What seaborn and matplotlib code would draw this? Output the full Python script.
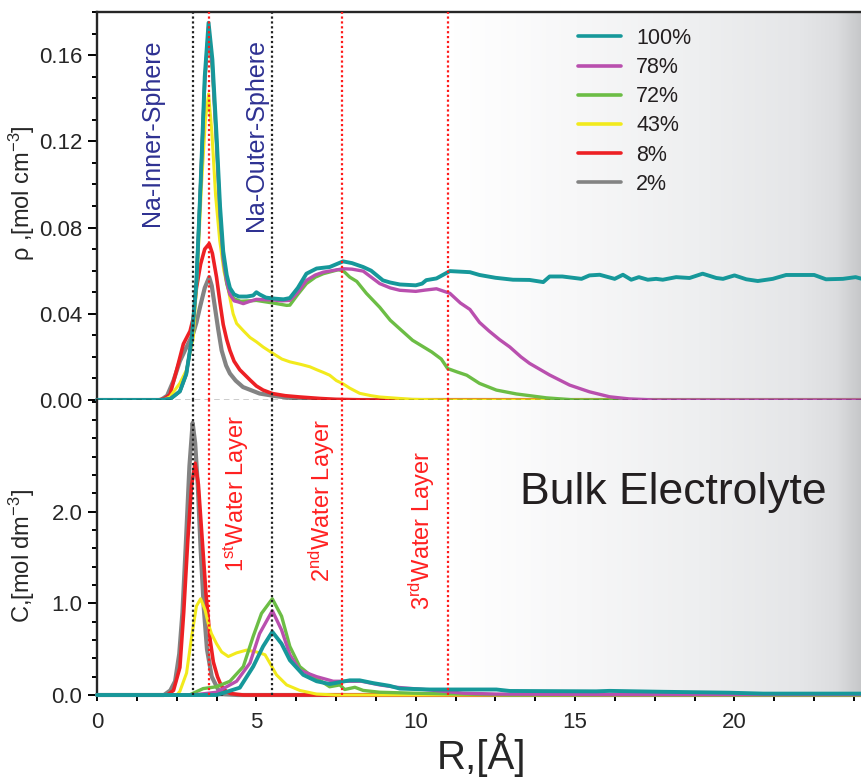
import numpy as np
import pandas as pd
import matplotlib
matplotlib.use("Agg")
import matplotlib.pyplot as plt
import seaborn as sns
from matplotlib.ticker import MultipleLocator, FixedLocator, FormatStrFormatter
from matplotlib.colors import LinearSegmentedColormap

# ---------------- data ----------------
labels = ["100%", "78%", "72%", "43%", "8%", "2%"]
colors = {"100%": "#16989a", "78%": "#b94fae", "72%": "#6cbd45",
          "43%": "#f2ea1c", "8%": "#ed2024", "2%": "#838383"}

# top panel: rho [mol cm^-3]
r_rho_100 = [0, 2.0, 2.3, 2.6, 2.8, 2.97, 3.12, 3.25, 3.38, 3.5, 3.62, 3.75, 3.86, 3.96, 4.07, 4.17,
             4.3, 4.45, 4.7, 4.9, 5.0, 5.1, 5.3, 5.6, 5.85, 6.05, 6.3, 6.57, 6.89, 7.3, 7.72, 8.0,
             8.35, 8.6, 8.97, 9.2, 9.5, 10.0, 10.2, 10.33, 10.65, 11.07, 11.7, 12.0, 12.5, 13.05,
             13.57, 14.0, 14.2, 14.6, 15.2, 15.45, 15.77, 16.24, 16.5, 16.76, 17.0, 17.28, 17.54,
             17.75, 18.17, 18.59, 19.0, 19.43, 19.64, 20.0, 20.37, 20.73, 21.2, 21.62, 22.14, 22.5,
             22.87, 23.4, 23.8, 24.0]
rho_100 = [0, 0, 0.0005, 0.004, 0.012, 0.028, 0.055, 0.10, 0.15, 0.175, 0.158, 0.123, 0.09, 0.069,
           0.058, 0.052, 0.049, 0.048, 0.048, 0.0485, 0.050, 0.049, 0.0475, 0.047, 0.0467, 0.0473,
           0.052, 0.0586, 0.061, 0.0617, 0.0643, 0.0635, 0.0617, 0.060, 0.0555, 0.0545, 0.0536,
           0.0532, 0.054, 0.0556, 0.0564, 0.0598, 0.0593, 0.058, 0.0567, 0.0558, 0.0557, 0.0547,
           0.0573, 0.0573, 0.0562, 0.0578, 0.0581, 0.0562, 0.0581, 0.0558, 0.057, 0.0558, 0.0562,
           0.0558, 0.057, 0.0566, 0.0586, 0.0566, 0.0562, 0.0578, 0.056, 0.0552, 0.0562, 0.058,
           0.058, 0.058, 0.056, 0.0562, 0.057, 0.0562]

r_rho_78 = [0, 2.0, 2.3, 2.6, 2.8, 2.97, 3.12, 3.25, 3.38, 3.5, 3.62, 3.75, 3.86, 3.96, 4.07, 4.17,
            4.3, 4.43, 4.59, 4.8, 5.0, 5.3, 5.53, 5.8, 6.05, 6.3, 6.57, 6.85, 7.1, 7.72, 8.0, 8.35,
            8.6, 8.87, 9.2, 9.5, 10.0, 10.3, 10.65, 11.07, 11.4, 11.7, 12.0, 12.3, 12.63, 12.95,
            13.3, 13.57, 14.2, 14.83, 15.45, 16.08, 16.7, 17.5, 24.0]
rho_78 = [0, 0, 0.0005, 0.004, 0.012, 0.028, 0.055, 0.10, 0.148, 0.173, 0.155, 0.12, 0.087, 0.066,
          0.055, 0.049, 0.046, 0.0455, 0.0447, 0.0458, 0.0467, 0.0465, 0.0464, 0.046, 0.0462, 0.050,
          0.0555, 0.058, 0.0593, 0.0609, 0.0607, 0.0598, 0.057, 0.054, 0.052, 0.0509, 0.0504,
          0.051, 0.0516, 0.0495, 0.045, 0.042, 0.036, 0.032, 0.028, 0.0246, 0.020, 0.017, 0.0116,
          0.0069, 0.0038, 0.0015, 0.0005, 0.0, 0.0]

r_rho_72 = [0, 2.0, 2.3, 2.6, 2.8, 2.97, 3.12, 3.25, 3.38, 3.5, 3.62, 3.75, 3.86, 3.96, 4.07, 4.17,
            4.3, 4.5, 4.8, 5.0, 5.3, 5.6, 5.95, 6.05, 6.3, 6.57, 6.85, 7.1, 7.56, 7.72, 7.93, 8.15,
            8.45, 8.87, 9.2, 9.5, 9.9, 10.2, 10.5, 10.8, 11.0, 11.3, 11.6, 12.0, 12.53, 13.16, 14.1,
            15.0, 24.0]
rho_72 = [0, 0, 0.0005, 0.004, 0.012, 0.028, 0.055, 0.10, 0.147, 0.171, 0.153, 0.118, 0.085, 0.065,
          0.054, 0.049, 0.047, 0.0458, 0.046, 0.0462, 0.0455, 0.0448, 0.0439, 0.044, 0.049, 0.054,
          0.057, 0.0586, 0.0604, 0.060, 0.057, 0.055, 0.0495, 0.043, 0.037, 0.033, 0.0277, 0.025,
          0.0223, 0.019, 0.0146, 0.013, 0.0115, 0.0077, 0.0046, 0.0028, 0.001, 0.0, 0.0]

r_rho_43 = [0, 2.1, 2.29, 2.6, 2.81, 3.02, 3.15, 3.28, 3.4, 3.5, 3.6, 3.72, 3.85, 3.98, 4.12, 4.27,
            4.38, 4.6, 4.8, 5.0, 5.21, 5.52, 5.8, 6.05, 6.4, 6.68, 6.9, 7.1, 7.3, 7.51, 7.72, 7.93,
            8.24, 8.6, 8.87, 9.9, 11.0, 24.0]
rho_43 = [0, 0, 0.0015, 0.0078, 0.014, 0.029, 0.06, 0.10, 0.13, 0.142, 0.125, 0.095, 0.074, 0.060,
          0.051, 0.040, 0.0355, 0.032, 0.029, 0.027, 0.0246, 0.0216, 0.019, 0.0177, 0.0165, 0.0154,
          0.014, 0.0128, 0.0115, 0.009, 0.0075, 0.0055, 0.0031, 0.002, 0.0014, 0.0003, 0.0, 0.0]

r_rho_8 = [0, 1.9, 2.1, 2.29, 2.5, 2.71, 2.92, 3.02, 3.12, 3.25, 3.38, 3.52, 3.62, 3.75, 3.86, 3.96,
           4.07, 4.17, 4.3, 4.48, 4.8, 5.0, 5.21, 5.5, 5.9, 6.36, 7.0, 7.5, 8.5, 24.0]
rho_8 = [0, 0, 0.0005, 0.0025, 0.014, 0.026, 0.032, 0.038, 0.052, 0.063, 0.070, 0.0725, 0.068, 0.057,
         0.045, 0.035, 0.028, 0.023, 0.018, 0.014, 0.0093, 0.0065, 0.0046, 0.003, 0.002, 0.0014,
         0.0007, 0.0003, 0.0, 0.0]

r_rho_2 = [0, 2.0, 2.2, 2.4, 2.6, 2.81, 3.02, 3.12, 3.23, 3.38, 3.52, 3.6, 3.7, 3.8, 3.91, 4.05, 4.17,
           4.35, 4.58, 5.1, 5.6, 6.3, 7.0, 24.0]
rho_2 = [0, 0, 0.002, 0.009, 0.018, 0.0246, 0.031, 0.036, 0.043, 0.052, 0.057, 0.053, 0.043, 0.033,
         0.023, 0.016, 0.0123, 0.009, 0.006, 0.003, 0.0018, 0.0005, 0.0, 0.0]

# bottom panel: C [mol dm^-3]
r_c_100 = [0, 3.75, 4.48, 4.9, 5.21, 5.5, 5.79, 6.05, 6.47, 6.89, 7.3, 7.93, 8.24, 8.66, 9.18, 9.5,
           10.44, 12.53, 12.95, 15.66, 16.08, 17.75, 19.84, 20.9, 24.0]
c_100 = [0, 0, 0.08, 0.31, 0.53, 0.69, 0.56, 0.38, 0.22, 0.15, 0.12, 0.16, 0.16, 0.13, 0.10, 0.07,
         0.06, 0.06, 0.044, 0.04, 0.045, 0.035, 0.025, 0.015, 0.015]

r_c_78 = [0, 3.0, 3.75, 4.38, 4.8, 5.1, 5.5, 5.79, 6.05, 6.36, 6.89, 7.41, 7.93, 8.3, 8.87, 9.4,
          10.44, 11.48, 12.53, 16.0, 24.0]
c_78 = [0, 0, 0.03, 0.15, 0.35, 0.67, 0.92, 0.71, 0.44, 0.27, 0.20, 0.15, 0.15, 0.15, 0.11, 0.084,
        0.055, 0.02, 0.01, 0.005, 0.005]

r_c_72 = [0, 2.9, 3.33, 3.75, 4.17, 4.59, 4.9, 5.16, 5.5, 5.79, 6.05, 6.36, 6.68, 6.99, 7.3, 7.62,
          7.77, 8.09, 8.35, 8.87, 9.9, 11.48, 13.0, 24.0]
c_72 = [0, 0, 0.07, 0.09, 0.15, 0.31, 0.64, 0.89, 1.05, 0.86, 0.53, 0.31, 0.22, 0.16, 0.09, 0.11,
        0.06, 0.084, 0.05, 0.03, 0.02, 0.01, 0.0, 0.0]

r_c_43 = [0, 2.5, 2.6, 2.81, 2.97, 3.12, 3.25, 3.39, 3.49, 3.59, 3.75, 3.91, 4.12, 4.38, 4.69, 5.0,
          5.27, 5.42, 5.63, 5.95, 6.36, 6.89, 7.5, 24.0]
c_43 = [0, 0, 0.04, 0.24, 0.64, 0.97, 1.05, 0.93, 0.78, 0.67, 0.56, 0.47, 0.42, 0.46, 0.49, 0.47,
        0.44, 0.35, 0.22, 0.11, 0.05, 0.01, 0.0, 0.0]

r_c_8 = [0, 2.2, 2.4, 2.6, 2.72, 2.85, 2.97, 3.08, 3.18, 3.3, 3.42, 3.55, 3.65, 3.78, 3.9, 4.05,
         4.2, 4.6, 24.0]
c_8 = [0, 0, 0.05, 0.30, 0.90, 1.70, 2.30, 2.53, 2.30, 1.70, 1.10, 0.60, 0.36, 0.20, 0.10, 0.04,
       0.015, 0.0, 0.0]

r_c_2 = [0, 2.1, 2.3, 2.45, 2.58, 2.68, 2.78, 2.9, 3.0, 3.08, 3.16, 3.25, 3.35, 3.45, 3.6, 3.8,
         4.0, 4.4, 24.0]
c_2 = [0, 0, 0.05, 0.15, 0.45, 0.90, 1.60, 2.50, 2.97, 2.75, 2.30, 1.60, 0.95, 0.50, 0.20, 0.06,
       0.01, 0.0, 0.0]

rho_series = {"100%": (r_rho_100, rho_100), "78%": (r_rho_78, rho_78), "72%": (r_rho_72, rho_72),
              "43%": (r_rho_43, rho_43), "8%": (r_rho_8, rho_8), "2%": (r_rho_2, rho_2)}
c_series = {"100%": (r_c_100, c_100), "78%": (r_c_78, c_78), "72%": (r_c_72, c_72),
            "43%": (r_c_43, c_43), "8%": (r_c_8, c_8), "2%": (r_c_2, c_2)}

black_lines = [3.0, 5.5]
red_lines = [3.5, 7.7, 11.0]

# ---------------- style ----------------
sns.set_style("ticks")
plt.rcParams["font.family"] = ["Liberation Sans", "DejaVu Sans"]
plt.rcParams["mathtext.fontset"] = "custom"
plt.rcParams["mathtext.rm"] = "Liberation Sans"
plt.rcParams["mathtext.it"] = "Liberation Sans"
plt.rcParams["mathtext.bf"] = "Liberation Sans:bold"

fig = plt.figure(figsize=(8.62, 7.79), dpi=100)
W, H = 862, 779
left, right = 97 / W, 1.0
ax_top = fig.add_axes([left, 1 - 400 / H, right - left, 388 / H])
ax_bot = fig.add_axes([left, 1 - 695 / H, right - left, 295 / H])

# background gradient
cmap = LinearSegmentedColormap.from_list(
    "bg", [(0.0, "#ffffff"), (0.3, "#f7f7f8"), (0.6, "#eeeff0"), (0.85, "#e5e6e8"),
           (0.94, "#dcdddf"), (1.0, "#c6c7c9")])
grad = np.linspace(0, 1, 256).reshape(1, -1)
for ax, ytop in ((ax_top, 0.18), (ax_bot, 3.22)):
    ax.imshow(grad, extent=[11.2, 24, 0, ytop], aspect="auto", cmap=cmap,
              origin="lower", zorder=0, interpolation="bicubic")

draw_order = ["2%", "8%", "43%", "72%", "78%", "100%"]
lw = {"100%": 2.8, "78%": 2.4, "72%": 2.4, "43%": 2.2, "8%": 2.6, "2%": 3.0}
for lab in draw_order:
    r, v = rho_series[lab]
    sns.lineplot(x=r, y=v, ax=ax_top, color=colors[lab], lw=lw[lab], label=lab,
                 sort=False, estimator=None, zorder=3, clip_on=False)
    r, v = c_series[lab]
    sns.lineplot(x=r, y=v, ax=ax_bot, color=colors[lab], lw=lw[lab],
                 sort=False, estimator=None, zorder=3, clip_on=False, legend=False)

# reference lines
ax_top.axhline(0, color="black", lw=1.0, ls=(0, (4, 3)), zorder=6, clip_on=False)
for ax in (ax_top, ax_bot):
    for x in black_lines:
        ax.axvline(x, color="#222222", lw=1.6, ls=(0, (1, 1.2)), zorder=7)
    for x in red_lines:
        ax.axvline(x, color="#ff1a1a", lw=1.6, ls=(0, (1, 1.2)), zorder=7)

# axes limits / ticks
for ax in (ax_top, ax_bot):
    ax.set_xlim(0, 24)
    ax.xaxis.set_major_locator(MultipleLocator(5))
    ax.xaxis.set_minor_locator(MultipleLocator(1.25))
    ax.tick_params(axis="both", which="both", direction="out", width=1.4, color="black",
                   labelsize=16, pad=4)
    ax.tick_params(axis="y", which="major", length=6.5)
    ax.tick_params(axis="y", which="minor", length=3.4)
    ax.tick_params(axis="x", which="both", length=4)
    ax.spines["right"].set_visible(False)
    for s in ax.spines.values():
        s.set_linewidth(1.7)
    ax.set_xlabel("")
    ax.set_ylabel("")

ax_top.set_ylim(0, 0.18)
ax_top.yaxis.set_major_locator(MultipleLocator(0.04))
ax_top.yaxis.set_minor_locator(MultipleLocator(0.01))
ax_top.yaxis.set_major_formatter(FormatStrFormatter("%.2f"))
ax_top.spines["bottom"].set_visible(False)
ax_top.tick_params(axis="x", which="both", bottom=False, labelbottom=False)

ax_bot.set_ylim(0, 3.22)
ax_bot.yaxis.set_major_locator(FixedLocator([0.0, 1.0, 2.0]))
ax_bot.yaxis.set_minor_locator(FixedLocator([0.2, 0.4, 0.6, 0.8, 1.2, 1.4, 1.6, 1.8,
                                             2.2, 2.4, 2.6, 2.8, 3.0, 3.2]))
ax_bot.yaxis.set_major_formatter(FormatStrFormatter("%.1f"))
ax_bot.spines["top"].set_visible(False)
ax_bot.tick_params(axis="x", which="major", pad=8)

ax_top.set_ylabel(r"ρ ,[mol cm$^{-3}$]", fontsize=17)
ax_top.yaxis.set_label_coords(-0.079, 0.533)
ax_bot.set_ylabel(r"C,[mol dm$^{-3}$]", fontsize=17)
ax_bot.yaxis.set_label_coords(-0.079, 0.471)
ax_bot.set_xlabel("R,[Å]", fontsize=29)
ax_bot.xaxis.set_label_coords(0.503, -0.13)

# annotations
navy = "#2e3192"
ax_top.text(1.72, 0.0805, "Na-Inner-Sphere", rotation=90, ha="center", va="bottom",
            color=navy, fontsize=18, zorder=8)
ax_top.text(5.0, 0.0785, "Na-Outer-Sphere", rotation=90, ha="center", va="bottom",
            color=navy, fontsize=18, zorder=8)
red_txt = "#ff2020"
ax_bot.text(4.36, 1.34, r"1$^{\mathrm{st}}$Water Layer", rotation=90, ha="center", va="bottom",
            color=red_txt, fontsize=17, zorder=8)
ax_bot.text(7.05, 1.23, r"2$^{\mathrm{nd}}$Water Layer", rotation=90, ha="center", va="bottom",
            color=red_txt, fontsize=17, zorder=8)
ax_bot.text(10.2, 0.93, r"3$^{\mathrm{rd}}$Water Layer", rotation=90, ha="center", va="bottom",
            color=red_txt, fontsize=17, zorder=8)
ax_bot.text(13.26, 2.08, "Bulk Electrolyte", ha="left", va="baseline", color="#231f20",
            fontsize=32, zorder=8)

# legend (100% first)
handles, labs = ax_top.get_legend_handles_labels()
order = [labs.index(l) for l in labels]
leg = ax_top.legend([handles[i] for i in order], [labs[i] for i in order], loc="upper left",
                    bbox_to_anchor=((578 - 97) / 765, 0.959), frameon=False, fontsize=15.5,
                    handlelength=2.0, handletextpad=0.7, labelspacing=0.38,
                    borderpad=0, borderaxespad=0)
for h in leg.get_lines():
    h.set_linewidth(2.6)
for t in leg.get_texts():
    t.set_color("#231f20")

fig.savefig("out.png", dpi=100)
